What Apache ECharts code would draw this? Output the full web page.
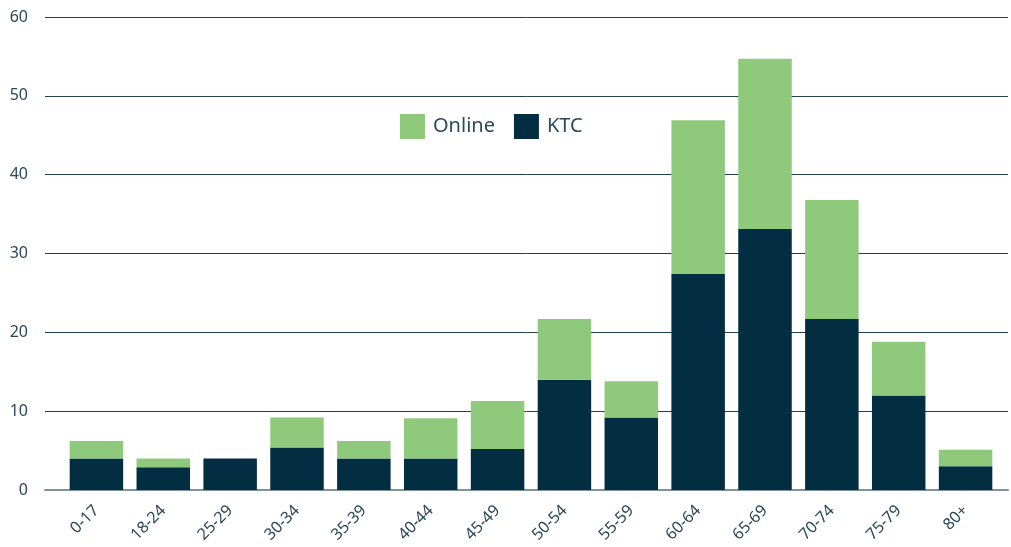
<!DOCTYPE html>
<html>
<head>
<meta charset="utf-8">
<script src="https://cdn.jsdelivr.net/npm/echarts@6/dist/echarts.min.js"></script>
<style>
  html, body { margin: 0; padding: 0; background: #fff; }
  #chart { width: 1011px; height: 547px; }
</style>
</head>
<body>
<div id="chart"></div>
<script>
// age groups
var ageGroups = ['0-17', '18-24', '25-29', '30-34', '35-39', '40-44', '45-49',
  '50-54', '55-59', '60-64', '65-69', '70-74', '75-79', '80+'];
// KTC (bottom, dark)
var ktcValues = [4, 2.9, 4, 5.4, 4, 4, 5.2, 14, 9.2, 27.4, 33.1, 21.7, 12, 3];
// Online (stacked on top, green)
var onlineValues = [2.2, 1.1, 0, 3.8, 2.2, 5.1, 6.1, 7.7, 4.6, 19.5, 21.6, 15.1, 6.8, 2.1];
var yTicks = [0, 10, 20, 30, 40, 50, 60];

var FONT = 'Noto Sans';
var TEXT = '#2b4858';

var chart = echarts.init(document.getElementById('chart'));

var option = {
  animation: false,
  textStyle: { fontFamily: FONT },
  legend: {
    left: 400,
    top: 114,
    padding: 0,
    itemWidth: 25,
    itemHeight: 25,
    itemGap: 19,
    icon: 'rect',
    textStyle: { fontFamily: FONT, fontSize: 20, color: TEXT, padding: [0, 0, 0, 3] },
    data: ['Online', 'KTC']
  },
  grid: [
    // wide grid: gridlines + y labels
    { left: 45, right: 3, top: 17, bottom: 57 },
    // bars
    { left: 63, right: 12, top: 17, bottom: 57 }
  ],
  xAxis: [
    {
      gridIndex: 0, type: 'value', min: 0, max: 1,
      axisLine: { show: true, lineStyle: { color: '#7d939e', width: 2 } },
      axisTick: { show: false }, axisLabel: { show: false }, splitLine: { show: false }
    },
    {
      gridIndex: 1, type: 'category', data: ageGroups,
      axisLine: { show: false }, axisTick: { show: false },
      axisLabel: { rotate: 45, margin: 18, fontSize: 16, color: TEXT, fontFamily: FONT }
    }
  ],
  yAxis: [
    {
      gridIndex: 0, type: 'value', min: yTicks[0], max: yTicks[yTicks.length - 1], interval: 10,
      axisLine: { show: false }, axisTick: { show: false },
      axisLabel: { fontSize: 16, color: TEXT, fontFamily: FONT, margin: 17 },
      splitLine: { lineStyle: { color: '#23404f', width: 1 } }
    },
    {
      gridIndex: 1, type: 'value', min: 0, max: 60, show: false
    }
  ],
  series: [
    {
      name: 'KTC', type: 'bar', stack: 'total', xAxisIndex: 1, yAxisIndex: 1,
      data: ktcValues, barCategoryGap: '20%',
      itemStyle: { color: '#032d40' }
    },
    {
      name: 'Online', type: 'bar', stack: 'total', xAxisIndex: 1, yAxisIndex: 1,
      data: onlineValues, barCategoryGap: '20%',
      itemStyle: { color: '#8fca7c' }
    }
  ]
};

chart.setOption(option);
</script>
</body>
</html>
